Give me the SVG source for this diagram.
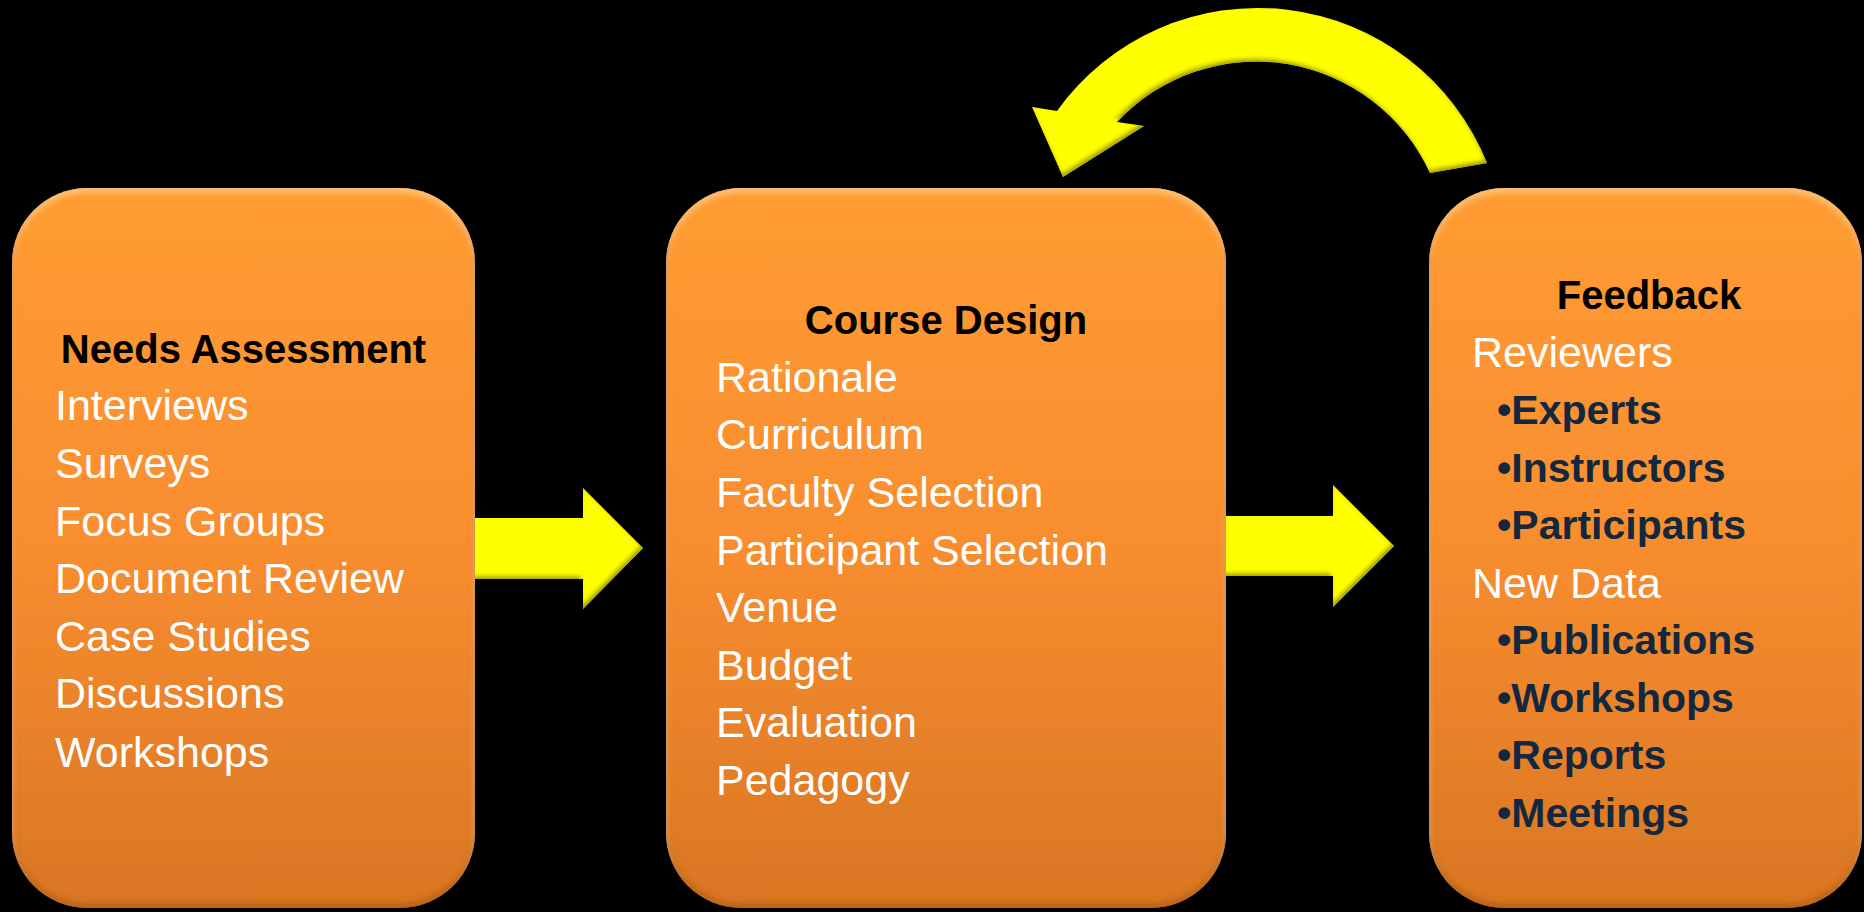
<svg xmlns="http://www.w3.org/2000/svg" width="1864" height="912" viewBox="0 0 1864 912">
<style>
  text { font-family: "Liberation Sans", Arial, sans-serif; }
  .box { fill: url(#boxGrad); filter: url(#boxBevel); }
  .head { font-size: 40px; font-weight: bold; fill: #000000; }
  .item { font-size: 43px; fill: #ffffff; }
  .bul { font-size: 41px; font-weight: bold; fill: #13273f; }
  .arrow { fill: #ffff00; filter: url(#arrowBevel); }
</style>
<defs>
  <linearGradient id="boxGrad" x1="0" y1="0" x2="0" y2="1">
    <stop offset="0" stop-color="#ff9c33"/>
    <stop offset="0.5" stop-color="#f88d2f"/>
    <stop offset="1" stop-color="#d97624"/>
  </linearGradient>
  <filter id="boxBevel" x="-5%" y="-5%" width="110%" height="110%">
    <feGaussianBlur in="SourceAlpha" stdDeviation="3" result="b"/>
    <feOffset in="b" dx="0" dy="4" result="down"/>
    <feComposite in="SourceAlpha" in2="down" operator="out" result="topEdge"/>
    <feFlood flood-color="#ffd68a" flood-opacity="0.7"/>
    <feComposite in2="topEdge" operator="in" result="hi"/>
    <feOffset in="b" dx="0" dy="-4" result="up"/>
    <feComposite in="SourceAlpha" in2="up" operator="out" result="botEdge"/>
    <feFlood flood-color="#8a4a10" flood-opacity="0.6"/>
    <feComposite in2="botEdge" operator="in" result="lo"/>
    <feMerge><feMergeNode in="SourceGraphic"/><feMergeNode in="hi"/><feMergeNode in="lo"/></feMerge>
  </filter>
  <filter id="arrowBevel" x="-5%" y="-5%" width="110%" height="110%">
    <feGaussianBlur in="SourceAlpha" stdDeviation="2" result="b"/>
    <feOffset in="b" dx="-2" dy="-3" result="o"/>
    <feComposite in="SourceAlpha" in2="o" operator="out" result="edge"/>
    <feFlood flood-color="#8c8400" flood-opacity="0.85"/>
    <feComposite in2="edge" operator="in" result="sh"/>
    <feMerge><feMergeNode in="SourceGraphic"/><feMergeNode in="sh"/></feMerge>
  </filter>
</defs>
<rect x="0" y="0" width="1864" height="912" fill="#000000"/>

<g id="connectors">
  <path id="arrow-needs-course" class="arrow" d="M470 518 L583 518 L583 488 L643 548 L583 609 L583 579 L470 579 Z"/>
  <path id="arrow-course-feedback" class="arrow" d="M1222 516 L1333 516 L1333 485 L1394 546 L1333 607 L1333 576 L1222 576 Z"/>
  <path id="arrow-feedback-course" class="arrow" d="M1487 163 A247 247 0 0 0 1057 111 L1032 107 L1063 177 L1144 126 L1117 122 A191 191 0 0 1 1430 173 Z"/>
</g>

<g id="node-needs">
  <rect class="box" x="12" y="188" width="463" height="720" rx="75" ry="75"/>
  <text class="head" x="243.5" y="363" text-anchor="middle">Needs Assessment</text>
  <text class="item" x="55" y="420">Interviews</text>
  <text class="item" x="55" y="478">Surveys</text>
  <text class="item" x="55" y="536">Focus Groups</text>
  <text class="item" x="55" y="593">Document Review</text>
  <text class="item" x="55" y="651">Case Studies</text>
  <text class="item" x="55" y="708">Discussions</text>
  <text class="item" x="55" y="767">Workshops</text>
</g>

<g id="node-course">
  <rect class="box" x="666" y="188" width="560" height="720" rx="75" ry="75"/>
  <text class="head" x="946" y="334" text-anchor="middle">Course Design</text>
  <text class="item" x="716" y="392">Rationale</text>
  <text class="item" x="716" y="449">Curriculum</text>
  <text class="item" x="716" y="507">Faculty Selection</text>
  <text class="item" x="716" y="565">Participant Selection</text>
  <text class="item" x="716" y="622">Venue</text>
  <text class="item" x="716" y="680">Budget</text>
  <text class="item" x="716" y="737">Evaluation</text>
  <text class="item" x="716" y="795">Pedagogy</text>
</g>

<g id="node-feedback">
  <rect class="box" x="1429" y="188" width="433" height="720" rx="75" ry="75"/>
  <text class="head" x="1649" y="309" text-anchor="middle">Feedback</text>
  <text class="item" x="1472" y="367">Reviewers</text>
  <text class="bul" x="1497" y="424">•Experts</text>
  <text class="bul" x="1497" y="482">•Instructors</text>
  <text class="bul" x="1497" y="539">•Participants</text>
  <text class="item" x="1472" y="598">New Data</text>
  <text class="bul" x="1497" y="654">•Publications</text>
  <text class="bul" x="1497" y="712">•Workshops</text>
  <text class="bul" x="1497" y="769">•Reports</text>
  <text class="bul" x="1497" y="827">•Meetings</text>
</g>
</svg>
